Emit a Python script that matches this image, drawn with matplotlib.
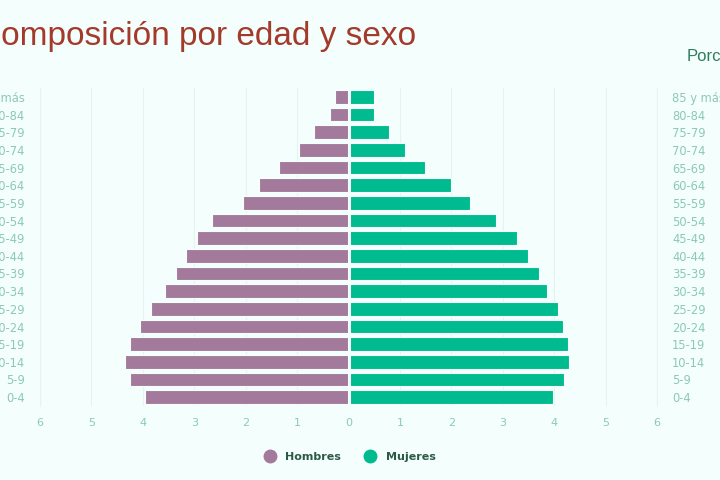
import matplotlib
matplotlib.use("Agg")
import matplotlib.pyplot as plt
from matplotlib.lines import Line2D

categories = ["0-4", "5-9", "10-14", "15-19", "20-24", "25-29", "30-34", "35-39",
              "40-44", "45-49", "50-54", "55-59", "60-64", "65-69", "70-74",
              "75-79", "80-84", "85 y más"]
hombres = [3.96, 4.25, 4.34, 4.25, 4.05, 3.85, 3.57, 3.35, 3.16, 2.95, 2.65,
           2.06, 1.75, 1.35, 0.97, 0.68, 0.36, 0.26]
mujeres = [3.98, 4.19, 4.28, 4.27, 4.18, 4.08, 3.86, 3.70, 3.49, 3.27, 2.87,
           2.37, 1.99, 1.49, 1.10, 0.78, 0.50, 0.50]
xticks = [-6, -5, -4, -3, -2, -1, 0, 1, 2, 3, 4, 5, 6]
xticklabels = ["6", "5", "4", "3", "2", "1", "0", "1", "2", "3", "4", "5", "6"]

bg = "#f4fefd"
purple = "#a47a9c"
green = "#00bb8f"
tick_col = "#8cc9b4"
grid_col = "#e2f5f1"

fig = plt.figure(figsize=(7.2, 4.8), dpi=100, facecolor=bg)
ax = fig.add_axes([40 / 720, 1 - 406 / 480, 617 / 720, 318 / 480], facecolor=bg)

y = list(range(len(categories)))
ax.barh(y, [-v for v in hombres], height=0.76, color=purple,
        edgecolor=bg, linewidth=0.8)
ax.barh(y, mujeres, height=0.76, color=green, edgecolor=bg, linewidth=0.8)
ax.axvline(0, color=bg, linewidth=2.2, zorder=3)

ax.set_xlim(-6, 6)
ax.set_ylim(-0.5, len(categories) - 0.5)
ax.set_xticks(xticks)
ax.set_xticklabels(xticklabels)
ax.set_yticks(y)
ax.set_yticklabels(categories)
ax.tick_params(axis="x", length=0, pad=9, labelsize=8, colors=tick_col)
ax.tick_params(axis="y", length=0, pad=11, labelsize=8.3, colors=tick_col,
               labelright=True, right=False)
ax.set_axisbelow(True)
ax.grid(axis="x", color=grid_col, linewidth=0.8)
for side in ["top", "bottom"]:
    ax.spines[side].set_visible(False)
for side in ["left", "right"]:
    ax.spines[side].set_color(grid_col)
    ax.spines[side].set_linewidth(0.8)

fig.text(-23 / 720, 1 - 45 / 480, "Composición por edad y sexo",
         fontsize=24, color="#a33a2a", family="Liberation Sans",
         ha="left", va="baseline")
fig.text(687 / 720, 1 - 61 / 480, "Porcentaje", fontsize=12,
         color="#2e7d5b", family="Liberation Sans", ha="left", va="baseline")

handles = [Line2D([0], [0], marker="o", linestyle="", markersize=9,
                  markerfacecolor=purple, markeredgecolor=purple),
           Line2D([0], [0], marker="o", linestyle="", markersize=9,
                  markerfacecolor=green, markeredgecolor=green)]
leg = fig.legend(handles, ["Hombres", "Mujeres"], loc="center",
                 bbox_to_anchor=(347 / 720, 1 - 457 / 480), ncol=2,
                 frameon=False, handletextpad=0.4, columnspacing=1.6,
                 prop={"family": "DejaVu Sans", "weight": "bold", "size": 8})
for t in leg.get_texts():
    t.set_color("#2b5a46")

fig.savefig("out.png", dpi=100, facecolor=bg)
